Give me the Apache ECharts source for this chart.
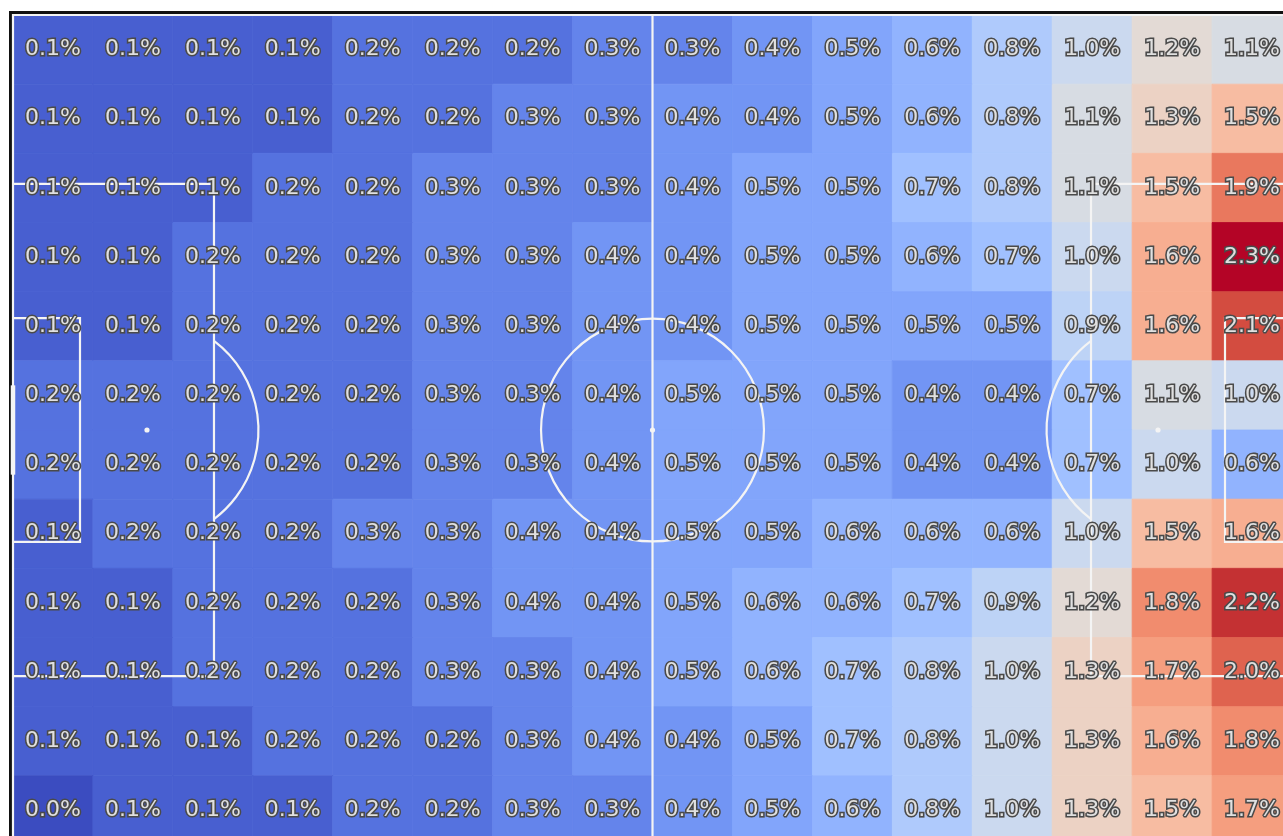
<!DOCTYPE html>
<html>
<head>
<meta charset="utf-8">
<script src="https://cdn.jsdelivr.net/npm/echarts@6/dist/echarts.min.js"></script>
<style>
  html, body { margin: 0; padding: 0; background: #ffffff; overflow: hidden; }
  /* the pitch runs a little past the right and bottom edges of the view */
  #chart { width: 1310px; height: 860px; }
</style>
</head>
<body>
<div id="chart"></div>
<script>
// Share of actions per pitch zone (%), 16 columns x 12 rows, top row first,
// attacking left to right.
const row01 = [0.1, 0.1, 0.1, 0.1, 0.2, 0.2, 0.2, 0.3, 0.3, 0.4, 0.5, 0.6, 0.8, 1.0, 1.2, 1.1];
const row02 = [0.1, 0.1, 0.1, 0.1, 0.2, 0.2, 0.3, 0.3, 0.4, 0.4, 0.5, 0.6, 0.8, 1.1, 1.3, 1.5];
const row03 = [0.1, 0.1, 0.1, 0.2, 0.2, 0.3, 0.3, 0.3, 0.4, 0.5, 0.5, 0.7, 0.8, 1.1, 1.5, 1.9];
const row04 = [0.1, 0.1, 0.2, 0.2, 0.2, 0.3, 0.3, 0.4, 0.4, 0.5, 0.5, 0.6, 0.7, 1.0, 1.6, 2.3];
const row05 = [0.1, 0.1, 0.2, 0.2, 0.2, 0.3, 0.3, 0.4, 0.4, 0.5, 0.5, 0.5, 0.5, 0.9, 1.6, 2.1];
const row06 = [0.2, 0.2, 0.2, 0.2, 0.2, 0.3, 0.3, 0.4, 0.5, 0.5, 0.5, 0.4, 0.4, 0.7, 1.1, 1.0];
const row07 = [0.2, 0.2, 0.2, 0.2, 0.2, 0.3, 0.3, 0.4, 0.5, 0.5, 0.5, 0.4, 0.4, 0.7, 1.0, 0.6];
const row08 = [0.1, 0.2, 0.2, 0.2, 0.3, 0.3, 0.4, 0.4, 0.5, 0.5, 0.6, 0.6, 0.6, 1.0, 1.5, 1.6];
const row09 = [0.1, 0.1, 0.2, 0.2, 0.2, 0.3, 0.4, 0.4, 0.5, 0.6, 0.6, 0.7, 0.9, 1.2, 1.8, 2.2];
const row10 = [0.1, 0.1, 0.2, 0.2, 0.2, 0.3, 0.3, 0.4, 0.5, 0.6, 0.7, 0.8, 1.0, 1.3, 1.7, 2.0];
const row11 = [0.1, 0.1, 0.1, 0.2, 0.2, 0.2, 0.3, 0.4, 0.4, 0.5, 0.7, 0.8, 1.0, 1.3, 1.6, 1.8];
const row12 = [0.0, 0.1, 0.1, 0.1, 0.2, 0.2, 0.3, 0.3, 0.4, 0.5, 0.6, 0.8, 1.0, 1.3, 1.5, 1.7];
const zoneRows = [row01, row02, row03, row04, row05, row06, row07, row08, row09, row10, row11, row12];

// Pitch dimensions in metres
const PITCH_LENGTH = 105;
const PITCH_WIDTH = 68;
const COLS = 16;
const ROWS = 12;

// Colour scale (coolwarm) from 0 % to the top zone value
const COLOR_MIN = 0;
const COLOR_MAX = 2.3;
const coolwarm = [
  '#3b4cc0', '#445acc', '#4d68d7', '#5775e1', '#6282ea', '#6c8ef1', '#779af7', '#82a5fb',
  '#8db0fe', '#98b9ff', '#a3c2ff', '#aec9fd', '#b8d0f9', '#c2d5f4', '#ccd9ee', '#d5dbe6',
  '#dddddd', '#e5d8d1', '#ecd3c5', '#f1ccb9', '#f5c4ad', '#f7bba0', '#f7b194', '#f7a687',
  '#f49a7b', '#f18d6f', '#ec7f63', '#e57058', '#de604d', '#d55042', '#cb3e38', '#c0282f',
  '#b40426'
];

const cellData = [];
zoneRows.forEach((row, j) => row.forEach((v, i) => cellData.push([i, j, v])));

const binW = PITCH_LENGTH / COLS;
const binH = PITCH_WIDTH / ROWS;

function cellRect(api, i, j) {
  const p0 = api.coord([i * binW, j * binH]);
  const p1 = api.coord([(i + 1) * binW, (j + 1) * binH]);
  return {
    x: Math.min(p0[0], p1[0]),
    y: Math.min(p0[1], p1[1]),
    width: Math.abs(p1[0] - p0[0]),
    height: Math.abs(p1[1] - p0[1])
  };
}

const LINE = '#f4f4f4';
const LW = 2.2;

function renderPitch(params, api) {
  const P = (x, y) => api.coord([x, y]);
  const pxPerM = api.size([1, 0])[0];
  const L = PITCH_LENGTH, W = PITCH_WIDTH, cy = W / 2;
  const poly = (pts, w) => ({
    type: 'polyline',
    shape: { points: pts.map(p => P(p[0], p[1])) },
    style: { stroke: LINE, lineWidth: w || LW, fill: null }
  });
  const tl = P(0, 0), br = P(L, W);
  const children = [];
  // dark frame just outside the touchlines
  children.push({
    type: 'rect',
    shape: { x: tl[0] - 2.5, y: tl[1] - 2.5, width: br[0] - tl[0] + 5, height: br[1] - tl[1] + 5 },
    style: { stroke: '#111111', lineWidth: 3, fill: null }
  });
  // touchlines and goal lines
  children.push({
    type: 'rect',
    shape: { x: tl[0], y: tl[1], width: br[0] - tl[0], height: br[1] - tl[1] },
    style: { stroke: LINE, lineWidth: LW, fill: null }
  });
  // halfway line
  children.push(poly([[L / 2, 0], [L / 2, W]]));
  // penalty areas and goal areas
  const boxHalf = 20.16, sixHalf = 9.16;
  children.push(poly([[0, cy - boxHalf], [16.5, cy - boxHalf], [16.5, cy + boxHalf], [0, cy + boxHalf]]));
  children.push(poly([[0, cy - sixHalf], [5.5, cy - sixHalf], [5.5, cy + sixHalf], [0, cy + sixHalf]]));
  children.push(poly([[L, cy - boxHalf], [L - 16.5, cy - boxHalf], [L - 16.5, cy + boxHalf], [L, cy + boxHalf]]));
  children.push(poly([[L, cy - sixHalf], [L - 5.5, cy - sixHalf], [L - 5.5, cy + sixHalf], [L, cy + sixHalf]]));
  // goals
  children.push(poly([[0, cy - 3.66], [0, cy + 3.66]], 4.5));
  children.push(poly([[L, cy - 3.66], [L, cy + 3.66]], 4.5));
  // centre circle and spots
  const r = 9.15 * pxPerM;
  const c = P(L / 2, cy);
  children.push({ type: 'circle', shape: { cx: c[0], cy: c[1], r: r }, style: { stroke: LINE, lineWidth: LW, fill: 'none' } });
  const spotL = P(11, cy), spotR = P(L - 11, cy);
  [c, spotL, spotR].forEach(s => children.push({
    type: 'circle', shape: { cx: s[0], cy: s[1], r: 2.6 }, style: { fill: LINE }
  }));
  // penalty arcs
  const a = Math.acos((16.5 - 11) / 9.15);
  children.push({ type: 'arc', shape: { cx: spotL[0], cy: spotL[1], r: r, startAngle: -a, endAngle: a, clockwise: true },
    style: { stroke: LINE, lineWidth: LW, fill: 'none' } });
  children.push({ type: 'arc', shape: { cx: spotR[0], cy: spotR[1], r: r, startAngle: Math.PI - a, endAngle: Math.PI + a, clockwise: true },
    style: { stroke: LINE, lineWidth: LW, fill: 'none' } });
  return { type: 'group', children: children };
}

const chart = echarts.init(document.getElementById('chart'), null, { renderer: 'canvas' });

chart.setOption({
  backgroundColor: '#ffffff',
  animation: false,
  grid: { left: 13, top: 15, width: 1279, height: 830, containLabel: false },
  xAxis: { type: 'value', min: 0, max: PITCH_LENGTH, show: false },
  yAxis: { type: 'value', min: 0, max: PITCH_WIDTH, inverse: true, show: false },
  visualMap: {
    show: false,
    type: 'continuous',
    seriesIndex: 0,
    dimension: 2,
    min: COLOR_MIN,
    max: COLOR_MAX,
    inRange: { color: coolwarm }
  },
  series: [
    {
      name: 'zones',
      type: 'custom',
      clip: false,
      silent: true,
      data: cellData,
      renderItem: function (params, api) {
        const i = api.value(0), j = api.value(1);
        const color = api.visual('color');
        return {
          type: 'rect',
          shape: cellRect(api, i, j),
          style: { fill: color, stroke: color, lineWidth: 0.8 }
        };
      },
      z: 1
    },
    {
      name: 'pitch',
      type: 'custom',
      clip: false,
      silent: true,
      data: [[0, 0]],
      renderItem: renderPitch,
      z: 2
    },
    {
      name: 'labels',
      type: 'custom',
      clip: false,
      silent: true,
      data: cellData,
      renderItem: function (params, api) {
        const i = api.value(0), j = api.value(1), v = api.value(2);
        const c = api.coord([(i + 0.5) * binW, (j + 0.5) * binH]);
        return {
          type: 'text',
          x: c[0],
          y: c[1],
          style: {
            text: v.toFixed(1) + '%',
            font: '22px "DejaVu Sans"',
            align: 'center',
            verticalAlign: 'middle',
            fill: '#e0e0e0',
            stroke: '#4a4a4a',
            lineWidth: 3.2
          }
        };
      },
      z: 3
    }
  ]
});
</script>
</body>
</html>
